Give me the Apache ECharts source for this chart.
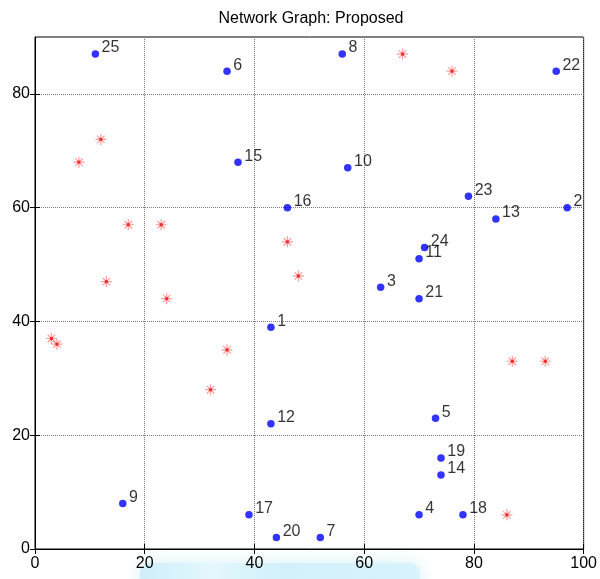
<!DOCTYPE html>
<html>
<head>
<meta charset="utf-8">
<title>Network Graph: Proposed</title>
<script src="https://cdn.jsdelivr.net/npm/echarts@6/dist/echarts.min.js"></script>
<style>
  html, body { margin: 0; padding: 0; background: #fff; }
  #chart { width: 600px; height: 579px; }
</style>
</head>
<body>
<div id="chart"></div>
<script>
// Sensor nodes (numbered 1..25) and their field positions
const nodeIds = [1, 2, 3, 4, 5, 6, 7, 8, 9, 10, 11, 12, 13, 14, 15, 16, 17, 18, 19, 20, 21, 22, 23, 24, 25];
const nodeX   = [43, 97, 63, 70, 73, 35, 52, 56, 16, 57, 70, 43, 84, 74, 37, 46, 39, 78, 74, 44, 70, 95, 79, 71, 11];
const nodeY   = [39, 60, 46,  6, 23, 84,  2, 87,  8, 67, 51, 22, 58, 13, 68, 60,  6,  6, 16,  2, 44, 84, 62, 53, 87];

// Anchor / target positions (red asterisks)
const starX = [12,  8, 67, 76, 17, 23, 13, 24,  3,  4, 35, 32, 46, 48, 87, 93, 86];
const starY = [72, 68, 87, 84, 57, 57, 47, 44, 37, 36, 35, 28, 54, 48, 33, 33,  6];

// Axis ticks
const xTicks = [0, 20, 40, 60, 80, 100];
const yTicks = [0, 20, 40, 60, 80];

const FONT = '"Liberation Sans", Arial, sans-serif';

const nodeData = nodeIds.map((id, i) => ({ value: [nodeX[i], nodeY[i]], name: String(id) }));
const starData = starX.map((x, i) => [x, starY[i]]);

const asterisk = 'path://M5,0L5,10M0,5L10,5M1.6,1.6L8.4,8.4M1.6,8.4L8.4,1.6';

const chart = echarts.init(document.getElementById('chart'), null, { renderer: 'canvas' });

const gridLine = { show: true, lineStyle: { color: '#7a7a7a', type: [1, 1], width: 1 } };
const xTick = { show: true, inside: true, length: 5, customValues: xTicks, lineStyle: { color: '#000' } };
const yTick = { show: true, inside: true, length: 5, customValues: yTicks, lineStyle: { color: '#000' } };

chart.setOption({
  animation: false,
  backgroundColor: '#ffffff',
  title: {
    text: 'Network Graph: Proposed',
    left: 306, top: 6, textAlign: 'center',
    textStyle: { fontFamily: FONT, fontSize: 16, fontWeight: 'normal', color: '#000' }
  },
  graphic: [{
    type: 'rect', z: -10, silent: true,
    shape: { x: 140, y: 563, width: 280, height: 30, r: 10 },
    style: {
      fill: { type: 'linear', x: 0, y: 0, x2: 1, y2: 0, colorStops: [
        { offset: 0, color: '#cdeffa' }, { offset: 0.25, color: '#e4f7fc' },
        { offset: 0.5, color: '#d2f1fb' }, { offset: 1, color: '#d8f3fb' }
      ] },
      shadowBlur: 18, shadowColor: '#d3f1fb'
    }
  }],
  grid: {
    left: 35, right: 14, top: 37, bottom: 30,
    show: true, borderColor: '#000', borderWidth: 1, backgroundColor: 'rgba(0,0,0,0)'
  },
  xAxis: [{
    type: 'value', min: 0, max: 100, interval: 20,
    axisLine: { show: true, lineStyle: { color: '#000', width: 1 } },
    axisTick: xTick,
    axisLabel: {
      margin: 7, fontFamily: FONT, fontSize: 16, color: '#000',
      formatter: v => xTicks.includes(v) ? String(v) : ''
    },
    splitLine: gridLine
  }, {
    type: 'value', min: 0, max: 100, interval: 20, position: 'top',
    axisLine: { show: false }, axisLabel: { show: false }, splitLine: { show: false },
    axisTick: xTick
  }],
  yAxis: [{
    type: 'value', min: 0, max: 90, interval: 20,
    axisLine: { show: true, lineStyle: { color: '#000', width: 1 } },
    axisTick: yTick,
    axisLabel: {
      margin: 5, fontFamily: FONT, fontSize: 16, color: '#000',
      formatter: v => yTicks.includes(v) ? String(v) : ''
    },
    splitLine: gridLine
  }, {
    type: 'value', min: 0, max: 90, interval: 20, position: 'right',
    axisLine: { show: false }, axisLabel: { show: false }, splitLine: { show: false },
    axisTick: yTick
  }],
  series: [
    {
      name: 'anchors', type: 'scatter', data: starData,
      symbol: asterisk, symbolSize: 11,
      itemStyle: { color: 'rgba(0,0,0,0)', borderColor: 'rgba(255,90,90,0.75)', borderWidth: 1.2 },
      z: 3
    },
    {
      name: 'anchorCore', type: 'scatter', data: starData,
      symbol: 'rect', symbolSize: 3,
      itemStyle: { color: '#e81010' },
      z: 4
    },
    {
      name: 'nodes', type: 'scatter', data: nodeData,
      symbol: 'circle', symbolSize: 7.5,
      itemStyle: { color: '#0000ff' },
      label: {
        show: true, position: 'right', distance: 2.5, offset: [0, -6],
        formatter: p => p.name,
        fontFamily: FONT, fontSize: 16, color: '#000'
      },
      z: 5
    }
  ]
});
</script>
</body>
</html>
